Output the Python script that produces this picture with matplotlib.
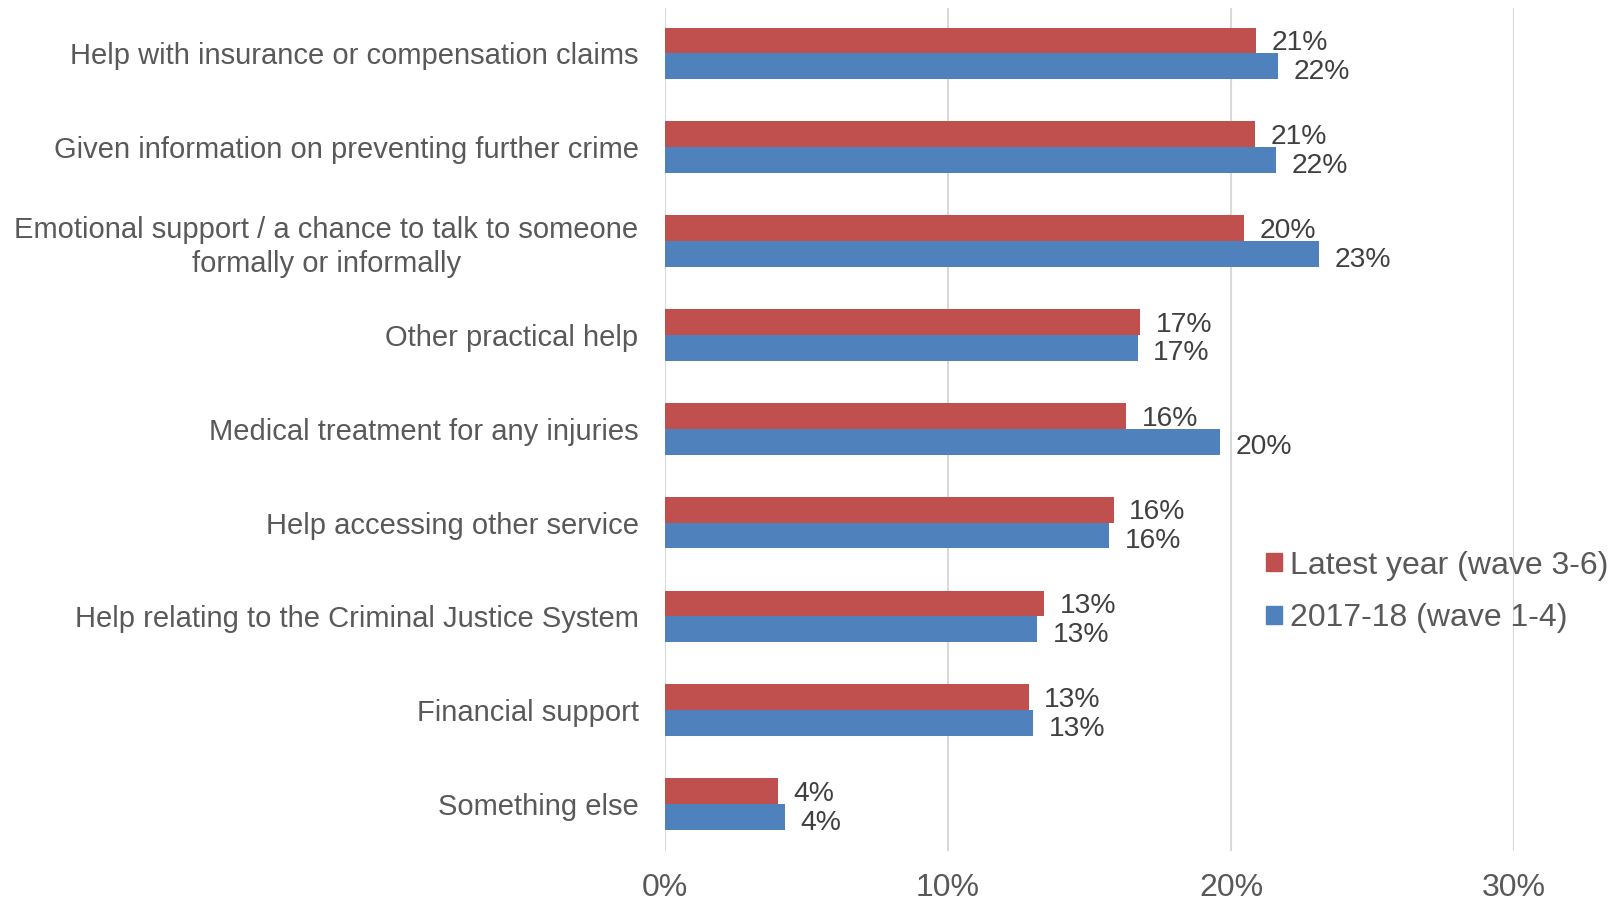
import matplotlib.pyplot as plt
from matplotlib.patches import Patch
import numpy as np

plt.rcParams['font.family'] = ['Liberation Sans', 'DejaVu Sans']

# data
categories = [
    "Help with insurance or compensation claims",
    "Given information on preventing further crime",
    "Emotional support / a chance to talk to someone\nformally or informally",
    "Other practical help",
    "Medical treatment for any injuries",
    "Help accessing other service",
    "Help relating to the Criminal Justice System",
    "Financial support",
    "Something else",
]
latest = [20.9, 20.85, 20.45, 16.8, 16.3, 15.85, 13.4, 12.85, 4.0]
base = [21.65, 21.6, 23.1, 16.7, 19.6, 15.7, 13.15, 13.0, 4.25]
series_names = ["Latest year (wave 3-6)", "2017-18 (wave 1-4)"]
xticks = [0, 10, 20, 30]

red = "#C0504D"
blue = "#4F81BD"

fig = plt.figure(figsize=(16.18, 9.05), dpi=100)
ax = fig.add_axes([0.411, 0.0597, 0.5247, 0.931])

y = np.arange(len(categories))
h = 0.275
ax.barh(y - h / 2, latest, height=h, color=red, zorder=3)
ax.barh(y + h / 2, base, height=h, color=blue, zorder=3)

# value labels
for yi, v in zip(y, latest):
    ax.text(v + 0.55, yi - h / 2 + 0.03, f"{round(v)}%", va="center", ha="left",
            fontsize=20.3, color="#404040")
for yi, v in zip(y, base):
    ax.text(v + 0.55, yi + h / 2 + 0.06, f"{round(v)}%", va="center", ha="left",
            fontsize=20.3, color="#404040")

ax.set_ylim(len(categories) - 0.5, -0.48)
ax.set_xlim(0, 30)
ax.set_yticks(y)
ax.set_yticklabels(categories, fontsize=21, color="#595959", multialignment="center",
                   linespacing=1.25)
ax.set_xticks(xticks)
ax.set_xticklabels([f"{t}%" for t in xticks], fontsize=23, color="#595959")
ax.tick_params(axis="y", length=0, pad=19)
ax.tick_params(axis="x", length=0, pad=16)
ax.grid(axis="x", color="#D9D9D9", linewidth=1.5, zorder=0)
for s in ax.spines.values():
    s.set_visible(False)

handles = [Patch(color=red), Patch(color=blue)]
fig.legend(handles, series_names, loc="center left", bbox_to_anchor=(0.7645, 0.346),
           frameon=False, fontsize=23, handlelength=0.5, handleheight=0.5,
           handletextpad=0.25, labelspacing=0.7, labelcolor="#595959")

fig.savefig("out.png", dpi=100)
